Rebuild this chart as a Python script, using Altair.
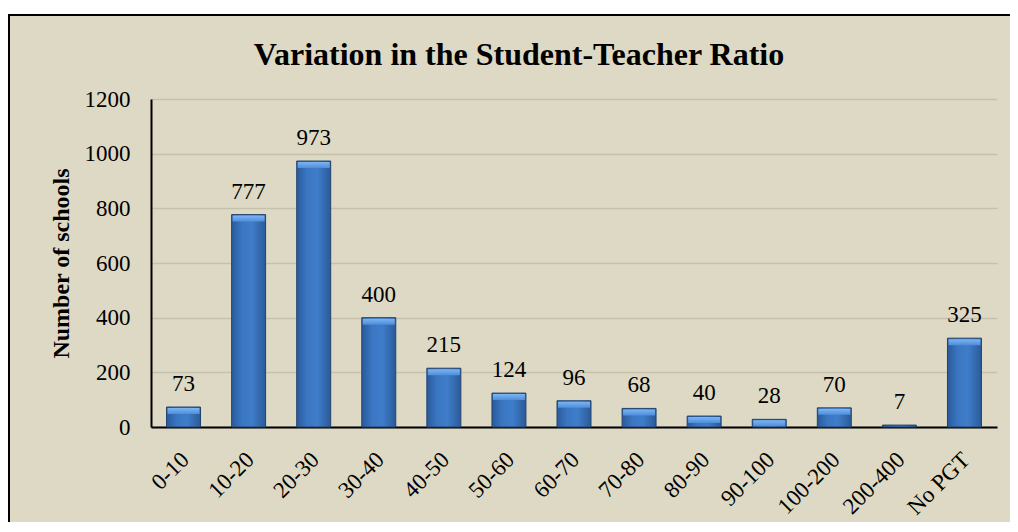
import altair as alt
import pandas as pd

categories = ["0-10", "10-20", "20-30", "30-40", "40-50", "50-60", "60-70",
              "70-80", "80-90", "90-100", "100-200", "200-400", "No PGT"]
schools = [73, 777, 973, 400, 215, 124, 96, 68, 40, 28, 70, 7, 325]
y_ticks = [0, 200, 400, 600, 800, 1000, 1200]

df = pd.DataFrame({"cat": categories, "n": schools})

FONT = "Liberation Serif"
BG = "#DDD9C4"

x_enc = alt.X("cat:N", sort=categories, title=None,
              scale=alt.Scale(paddingInner=0.478, paddingOuter=0.239),
              axis=alt.Axis(labelAngle=-45, labelFontSize=23, labelFont=FONT,
                            labelColor="black", ticks=False, labelPadding=21,
                            labelOffset=-6,
                            domainColor="black", domainWidth=2, grid=False))
y_enc = alt.Y("n:Q", title="Number of schools",
              scale=alt.Scale(domain=[0, 1200], nice=False),
              axis=alt.Axis(values=y_ticks, format="d", labelFontSize=23,
                            labelFont=FONT,
                            labelColor="black", ticks=False, labelPadding=21,
                            titleFont=FONT, titleFontSize=24, titleFontWeight="bold",
                            titleColor="black", titlePadding=11,
                            domainColor="black", domainWidth=2,
                            grid=True, gridColor="#C6C1AC", gridWidth=1.6))

base = alt.Chart(df)

bar_grad = alt.Gradient(
    gradient="linear", x1=0, x2=1, y1=0, y2=0,
    stops=[alt.GradientStop(color="#2A5A9A", offset=0),
           alt.GradientStop(color="#3A76C2", offset=0.3),
           alt.GradientStop(color="#3F7DCA", offset=0.6),
           alt.GradientStop(color="#2B5B98", offset=1)])

bars = base.mark_bar(color=bar_grad, stroke="#22426F", strokeWidth=1).encode(
    x=x_enc, y=y_enc)

bevel_grad = alt.Gradient(
    gradient="linear", x1=0, x2=0, y1=0, y2=1,
    stops=[alt.GradientStop(color="#7DB5F2", offset=0),
           alt.GradientStop(color="#4E8DDA", offset=1)])

bevel = base.transform_filter("datum.n >= 20").mark_tick(
    orient="horizontal", size=32, thickness=6, yOffset=4,
    color=bevel_grad, opacity=1).encode(
    x=alt.X("cat:N", sort=categories), y=alt.Y("n:Q"))

labels = base.mark_text(dy=-16, baseline="alphabetic", fontSize=23,
                        font=FONT, color="black").encode(
    x=alt.X("cat:N", sort=categories), y=alt.Y("n:Q"),
    text=alt.Text("n:Q", format="d"))

one = alt.Data(values=[{"a": 1}])
frame = alt.Chart(one).mark_rect(filled=False, stroke="black", strokeWidth=2).encode(
    x=alt.value(-142), x2=alt.value(900), y=alt.value(-84), y2=alt.value(600))
top_strip = alt.Chart(one).mark_rect(color="white").encode(
    x=alt.value(-143), x2=alt.value(900), y=alt.value(-95), y2=alt.value(-85))

chart = alt.layer(top_strip, frame, bars, bevel, labels).properties(
    width=846, height=328,
    padding={"left": 143, "top": 91, "right": 13, "bottom": 95},
    autosize="none",
    background=BG,
    title=alt.TitleParams("Variation in the Student-Teacher Ratio",
                          font=FONT, fontSize=32, fontWeight="bold",
                          color="black", anchor="middle", frame="group",
                          dx=-55, baseline="alphabetic", offset=-93),
).configure(font=FONT).configure_text(font=FONT).configure_view(stroke=None)

chart.save("out.html", embed_options={"renderer": "svg", "actions": False})
